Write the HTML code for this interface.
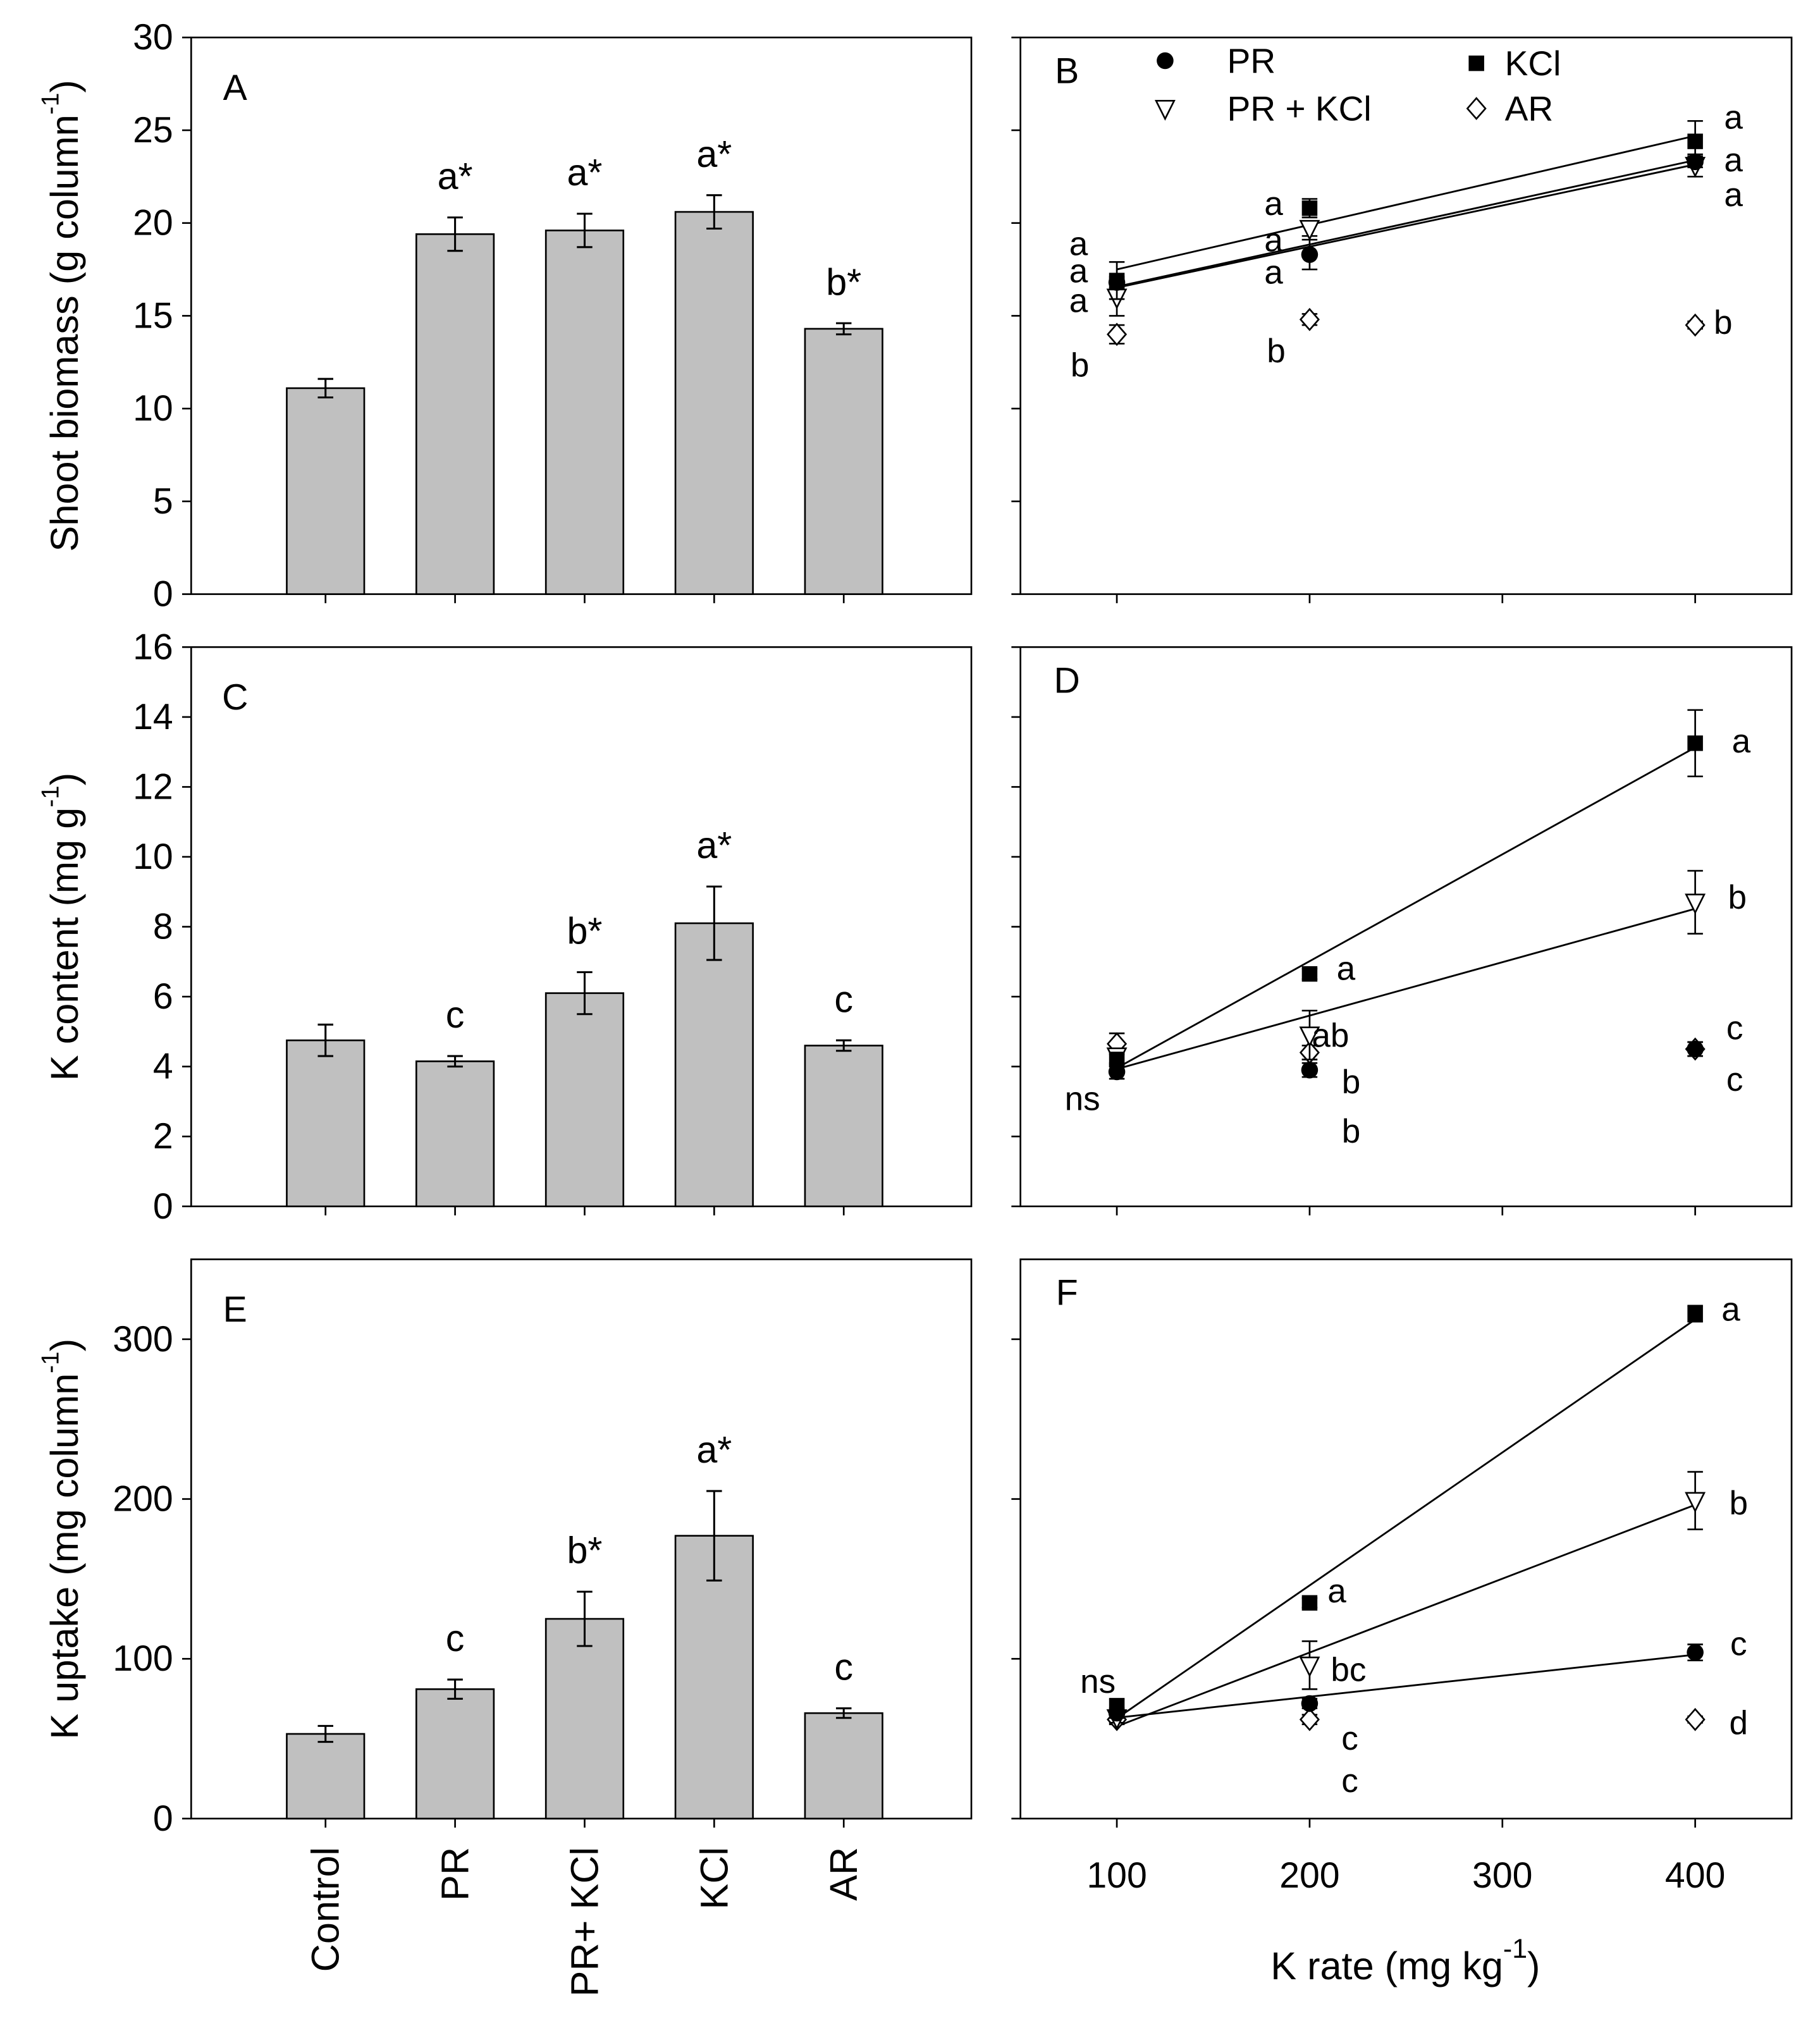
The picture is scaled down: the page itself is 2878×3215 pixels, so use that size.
<!DOCTYPE html>
<html><head><meta charset="utf-8"><style>
html,body{margin:0;padding:0;background:#fff;}
svg{display:block;font-family:"Liberation Sans",Arial,sans-serif;}
</style></head><body>
<svg id="fig" width="2878" height="3215" viewBox="0 0 1409 1574" xmlns="http://www.w3.org/2000/svg"></svg>
<script>
// ---- bar chart data ----
const barCats = ["Control","PR","PR+ KCl","KCl","AR"];
const biomassVals = [11.1,19.4,19.6,20.6,14.3];
const biomassErr = [0.5,0.9,0.9,0.9,0.3];
const biomassLetters = ["","a*","a*","a*","b*"];
const kContentVals = [4.75,4.15,6.1,8.1,4.6];
const kContentErr = [0.45,0.15,0.6,1.05,0.15];
const kContentLetters = ["","c","b*","a*","c"];
const kUptakeVals = [53,81,125,177,66];
const kUptakeErr = [5,6,17,28,3];
const kUptakeLetters = ["","c","b*","a*","c"];
const biomassTicks = [0,5,10,15,20,25,30];
const contentTicks = [0,2,4,6,8,10,12,14,16];
const uptakeTicks = [0,100,200,300];
// ---- rate chart data ----
const rates = [100,200,400];
const rateTicks = [100,200,300,400];
const bPR = [16.8,18.3,23.3], bPRerr=[0.3,0.8,0.3];
const bKCl = [16.9,20.8,24.4], bKClerr=[1.0,0.5,1.1];
const bPRK = [16.0,19.7,23.1], bPRKerr=[1.0,0.4,0.6];
const bAR = [14.0,14.8,14.5], bARerr=[0.5,0.3,0.2];
const dPR = [3.85,3.9,4.5], dPRerr=[0.2,0.2,0.2];
const dKCl = [4.2,6.65,13.25], dKClerr=[0.2,0.15,0.95];
const dPRK = [4.3,4.9,8.7], dPRKerr=[0.2,0.7,0.9];
const dAR = [4.65,4.4,4.5], dARerr=[0.3,0.2,0.2];
const fPR = [66,72,104], fPRerr=[3,3,5];
const fKCl = [70,135,316], fKClerr=[5,3,5];
const fPRK = [63,96,199], fPRKerr=[3,15,18];
const fAR = [62,62,62], fARerr=[3,3,2];

const NS="http://www.w3.org/2000/svg";
const svg=document.getElementById('fig');
function el(tag,attrs,parent){const e=document.createElementNS(NS,tag);for(const k in attrs)e.setAttribute(k,attrs[k]);(parent||svg).appendChild(e);return e;}
function txt(x,y,s,size,parent,anchor){const t=el('text',{x:x,y:y,'font-size':size||24,'text-anchor':anchor||'middle','dominant-baseline':'central',fill:'#000'},parent);t.textContent=s;return t;}

const L={x0:148,x1:752}, R={x0:790,x1:1387};
const rows=[{y0:29,y1:460},{y0:501,y1:934},{y0:975,y1:1408}];

function frame(p,name){const g=el('g',{});
 el('rect',{x:p.x0,y:p.y0,width:p.x1-p.x0,height:p.y1-p.y0,fill:'none',stroke:'#000','stroke-width':1.3},g);return g;}

function barPanel(row,vals,err,letters,ticks,ymax,panelLetter,title,name,showCats){
 const p={x0:L.x0,x1:L.x1,y0:row.y0,y1:row.y1};
 const g=frame(p,name);
 const ys=v=>p.y1-(v/ymax)*(p.y1-p.y0);
 const xs=i=>252+i*100.3;
 ticks.forEach(t=>{el('line',{x1:p.x0-7,x2:p.x0,y1:ys(t),y2:ys(t),stroke:'#000','stroke-width':1.3},g);
   const tl=txt(p.x0-14,ys(t),String(t),28,g,'end');});
 vals.forEach((v,i)=>{const cx=xs(i);
   const b=el('rect',{x:cx-30,y:ys(v),width:60,height:p.y1-ys(v),fill:'#c0c0c0',stroke:'#000','stroke-width':1.3},g);
   
   
   const top=ys(v+err[i]),bot=ys(v-err[i]);
   el('path',{d:`M${cx},${top}V${bot}M${cx-6},${top}H${cx+6}M${cx-6},${bot}H${cx+6}`,stroke:'#000','stroke-width':1.5,fill:'none'},g);
   el('line',{x1:cx,x2:cx,y1:p.y1,y2:p.y1+7,stroke:'#000','stroke-width':1.3},g);
   if(letters[i]){const lt=txt(cx,top-32,letters[i],29,g);}
   if(showCats){const c=txt(0,0,barCats[i],30,g,'end');c.setAttribute('transform',`translate(${cx},${p.y1+22}) rotate(-90)`);
     }
 });
 const pl=txt(p.x0+34,p.y0+39,panelLetter,28,g);
 const yt=txt(0,0,'',30,g);yt.setAttribute('transform',`translate(50,${(p.y0+p.y1)/2}) rotate(-90)`);
 
 yt.innerHTML=title;
}

function fit(y){const mx=rates.reduce((a,b)=>a+b)/3,my=y.reduce((a,b)=>a+b)/3;let sxy=0,sxx=0;
 rates.forEach((x,i)=>{sxy+=(x-mx)*(y[i]-my);sxx+=(x-mx)*(x-mx);});const s=sxy/sxx;return x=>my+s*(x-mx);}

function marker(type,x,y,g){let m;
 if(type==='circle')m=el('circle',{cx:x,cy:y,r:6.5,fill:'#000'},g);
 else if(type==='square')m=el('rect',{x:x-6,y:y-6,width:12,height:12,fill:'#000'},g);
 else if(type==='tri')m=el('path',{d:`M${x-7},${y-6}H${x+7}L${x},${y+8}Z`,fill:'#fff',stroke:'#000','stroke-width':1.3},g);
 else m=el('path',{d:`M${x},${y-8}L${x+7},${y}L${x},${y+8}L${x-7},${y}Z`,fill:'#fff',stroke:'#000','stroke-width':1.3},g);
 return m;}

function ratePanel(row,series,lines,ymax,ticks,panelLetter,name,labels,showX){
 const p={x0:R.x0,x1:R.x1,y0:row.y0,y1:row.y1};
 const g=frame(p,name);
 const ys=v=>p.y1-(v/ymax)*(p.y1-p.y0);
 const xs=v=>p.x0+(v-50)/400*(p.x1-p.x0);
 ticks.forEach(t=>el('line',{x1:p.x0-7,x2:p.x0,y1:ys(t),y2:ys(t),stroke:'#000','stroke-width':1.3},g));
 rateTicks.forEach(t=>{el('line',{x1:xs(t),x2:xs(t),y1:p.y1,y2:p.y1+7,stroke:'#000','stroke-width':1.3},g);
   if(showX){const tl=txt(xs(t),p.y1+44,String(t),28,g);}});
 lines.forEach(y=>{const f=fit(y);const ln=el('line',{x1:xs(100),y1:ys(f(100)),x2:xs(400),y2:ys(f(400)),stroke:'#000','stroke-width':1.4},g);
   });
 series.forEach(s=>{s.v.forEach((v,i)=>{const x=xs(rates[i]);const t=ys(v+s.e[i]),b=ys(v-s.e[i]);
   el('path',{d:`M${x},${t}V${b}M${x-6},${t}H${x+6}M${x-6},${b}H${x+6}`,stroke:'#000','stroke-width':1.3,fill:'none'},g);
   const m=marker(s.t,x,ys(v),g);});});
 const pl=txt(p.x0+36,p.y0+26,panelLetter,28,g);
 labels.forEach(l=>{const t=txt(l[0],l[1],l[2],26,g);});
}

barPanel(rows[0],biomassVals,biomassErr,biomassLetters,biomassTicks,30,'A','Shoot biomass (g column<tspan dy="-11" font-size="19">-1</tspan><tspan dy="11">)</tspan>','panel-a-shoot-biomass',false);
barPanel(rows[1],kContentVals,kContentErr,kContentLetters,contentTicks,16,'C','K content (mg g<tspan dy="-11" font-size="19">-1</tspan><tspan dy="11">)</tspan>','panel-c-k-content',false);
barPanel(rows[2],kUptakeVals,kUptakeErr,kUptakeLetters,uptakeTicks,350,'E','K uptake (mg column<tspan dy="-11" font-size="19">-1</tspan><tspan dy="11">)</tspan>','panel-e-k-uptake',true);

ratePanel(rows[0],[{v:bAR,e:bARerr,t:'diamond',n:'ar'},{v:bPRK,e:bPRKerr,t:'tri',n:'pr-kcl'},{v:bPR,e:bPRerr,t:'circle',n:'pr'},{v:bKCl,e:bKClerr,t:'square',n:'kcl'}],
 [bPR,bKCl,bPRK],30,biomassTicks,'B','panel-b-shoot-biomass-rate',
 [[835,189,'a'],[835,210,'a'],[835,233,'a'],[836,283,'b'],[986,158,'a'],[986,186,'a'],[986,211,'a'],[988,272,'b'],[1342,91,'a'],[1342,124,'a'],[1342,151,'a'],[1334,250,'b']],false);
ratePanel(rows[1],[{v:dAR,e:dARerr,t:'diamond',n:'ar'},{v:dPRK,e:dPRKerr,t:'tri',n:'pr-kcl'},{v:dPR,e:dPRerr,t:'circle',n:'pr'},{v:dKCl,e:dKClerr,t:'square',n:'kcl'}],
 [dKCl,dPRK],16,contentTicks,'D','panel-d-k-content-rate',
 [[1348,574,'a'],[1345,695,'b'],[1343,796,'c'],[1343,836,'c'],[1042,750,'a'],[1030,802,'ab'],[1046,838,'b'],[1046,876,'b'],[838,851,'ns']],false);
ratePanel(rows[2],[{v:fAR,e:fARerr,t:'diamond',n:'ar'},{v:fPRK,e:fPRKerr,t:'tri',n:'pr-kcl'},{v:fPR,e:fPRerr,t:'circle',n:'pr'},{v:fKCl,e:fKClerr,t:'square',n:'kcl'}],
 [fPR,fKCl,fPRK],350,uptakeTicks,'F','panel-f-k-uptake-rate',
 [[1340,1014,'a'],[1346,1164,'b'],[1346,1273,'c'],[1346,1334,'d'],[1035,1232,'a'],[1044,1293,'bc'],[1045,1346,'c'],[1045,1379,'c'],[850,1302,'ns']],true);

// legend
const lg=el('g',{});
[['circle',902,47,950,'PR'],['tri',902,84,950,'PR + KCl'],['square',1143,49,1165,'KCl'],['diamond',1143,84,1165,'AR']].forEach(d=>{
 const m=marker(d[0],d[1],d[2],lg);
 const t=txt(d[3],d[2],d[4],27,lg,'start');});

const xt=txt(1088,1522,'',30);
xt.innerHTML='K rate (mg kg<tspan dy="-13" font-size="21">-1</tspan><tspan dy="13">)</tspan>';
</script>
</body></html>
